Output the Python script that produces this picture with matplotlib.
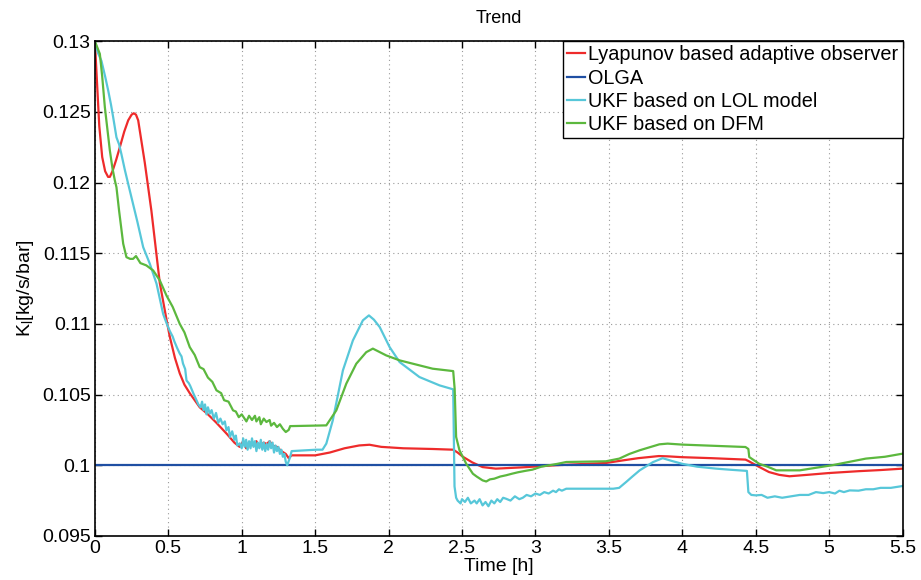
import matplotlib
matplotlib.use("Agg")
import matplotlib.pyplot as plt

plt.rcParams["font.family"] = ["Liberation Sans", "DejaVu Sans"]
plt.rcParams["mathtext.fontset"] = "custom"
plt.rcParams["mathtext.rm"] = "Liberation Sans"

# Lyapunov based adaptive observer
lyap_t = [0.0, 0.01, 0.03, 0.05, 0.07, 0.09, 0.102, 0.12, 0.145, 0.17, 0.2, 0.227, 0.25,
          0.265, 0.28, 0.295, 0.34, 0.385, 0.442, 0.488, 0.51, 0.545, 0.578, 0.61, 0.646,
          0.68, 0.714, 0.77, 0.828, 0.9, 0.95, 0.986, 1.01, 1.03, 1.06, 1.08, 1.1, 1.12,
          1.15, 1.17, 1.19, 1.21, 1.24, 1.27, 1.3, 1.32, 1.33, 1.34, 1.5, 1.6, 1.7, 1.8,
          1.87, 1.95, 2.1, 2.3, 2.44, 2.47, 2.506, 2.57, 2.64, 2.73, 2.91, 3.14, 3.48,
          3.6, 3.7, 3.84, 3.9, 4.0, 4.2, 4.43, 4.45, 4.52, 4.59, 4.66, 4.73, 4.85, 5.0,
          5.2, 5.35, 5.5]
lyap_v = [0.1300, 0.1280, 0.1240, 0.1218, 0.1208, 0.1204, 0.1204, 0.1208, 0.1216, 0.1225,
          0.1236, 0.1244, 0.1248, 0.1249, 0.1248, 0.1244, 0.1214, 0.1180, 0.1129, 0.1103,
          0.1091, 0.1076, 0.1065, 0.1057, 0.1051, 0.1046, 0.1041, 0.1036, 0.1030, 0.1022,
          0.1016, 0.1013, 0.1017, 0.1012, 0.1016, 0.1014, 0.1017, 0.1013, 0.1016, 0.1015,
          0.1017, 0.1014, 0.1013, 0.1010, 0.1008, 0.1005, 0.1006, 0.1007, 0.1007, 0.1009,
          0.1012, 0.1014, 0.10145, 0.1013, 0.1012, 0.10115, 0.1011, 0.1009, 0.1006, 0.1002,
          0.09987, 0.09976, 0.09985, 0.1000, 0.10016, 0.10035, 0.1005, 0.10065, 0.10063,
          0.10057, 0.1005, 0.1004, 0.1003, 0.0999, 0.09952, 0.09932, 0.09922, 0.09932,
          0.09945, 0.09958, 0.09966, 0.09976]

# OLGA
olga_t = [0.0, 5.5]
olga_v = [0.1, 0.1]

# UKF based on LOL model
lol_t = [0.0, 0.02, 0.045, 0.07, 0.091, 0.11, 0.125, 0.147, 0.165, 0.181, 0.204, 0.227,
         0.26, 0.29, 0.329, 0.374, 0.42, 0.465,
         0.49, 0.51, 0.53, 0.54, 0.56, 0.578, 0.59, 0.6, 0.615, 0.624, 0.64, 0.65, 0.67,
         0.692, 0.705, 0.72, 0.73, 0.74, 0.75, 0.76, 0.77, 0.782, 0.795, 0.81, 0.825,
         0.84, 0.855, 0.87, 0.885, 0.896, 0.91, 0.92, 0.935, 0.95, 0.96, 0.97, 0.986,
         1.0, 1.01, 1.02, 1.03, 1.04, 1.05, 1.06, 1.07, 1.08, 1.09, 1.1, 1.11, 1.12,
         1.13, 1.14, 1.15, 1.16, 1.17, 1.18, 1.19, 1.2, 1.21, 1.22, 1.23, 1.24, 1.25,
         1.26, 1.27, 1.28, 1.29, 1.30, 1.31, 1.32, 1.33, 1.34,
         1.508, 1.55, 1.576, 1.62, 1.689, 1.757, 1.825, 1.866, 1.9, 1.94, 2.007, 2.075,
         2.21, 2.347, 2.44,
         2.449, 2.46, 2.47, 2.49, 2.5, 2.52, 2.54, 2.56, 2.585, 2.6, 2.62, 2.64, 2.66,
         2.68, 2.7, 2.72, 2.74, 2.76, 2.78, 2.8, 2.83, 2.86, 2.89, 2.914, 2.94, 2.97,
         3.0, 3.03, 3.06, 3.09, 3.12, 3.14, 3.16, 3.18, 3.21,
         3.53, 3.57, 3.617, 3.66, 3.71, 3.8, 3.866, 3.93, 4.0, 4.1, 4.23, 4.33, 4.44,
         4.45, 4.47, 4.5, 4.54, 4.58, 4.63, 4.68, 4.74, 4.8, 4.86, 4.91, 4.96, 5.0,
         5.04, 5.07, 5.1, 5.14, 5.2, 5.25, 5.3, 5.35, 5.42, 5.5]
lol_v = [0.1300, 0.1292, 0.1286, 0.1275, 0.1265, 0.1255, 0.1246, 0.1232, 0.1227, 0.1220,
         0.1209, 0.1199, 0.1185, 0.1172, 0.11543, 0.11426, 0.11284, 0.1107,
         0.1100, 0.1095, 0.1091, 0.1088, 0.1083, 0.1079, 0.1077, 0.1072, 0.1068, 0.1060,
         0.1058, 0.1056, 0.1051, 0.1046, 0.1043, 0.1041, 0.1045, 0.1039, 0.1043, 0.1036,
         0.1041, 0.10365, 0.1039, 0.1033, 0.1037, 0.1030, 0.1033, 0.1029, 0.1031, 0.10247,
         0.1027, 0.1020, 0.1024, 0.1018, 0.1021, 0.1014, 0.10155,
         0.1012, 0.1019, 0.1013, 0.1018, 0.1011, 0.1017, 0.1012, 0.1019, 0.1013, 0.1017,
         0.1010, 0.1016, 0.1012, 0.1018, 0.1011, 0.1016, 0.1010, 0.1015, 0.1011, 0.1017,
         0.1012, 0.1016, 0.1009, 0.1014, 0.1010, 0.1013, 0.1008, 0.1011, 0.1006, 0.1008,
         0.10024, 0.1000, 0.1003, 0.1006, 0.1010,
         0.1011, 0.1011, 0.10153, 0.10317, 0.10671, 0.10883, 0.11025, 0.1106, 0.1103,
         0.10977, 0.10836, 0.1073, 0.10624, 0.10565, 0.10537,
         0.0985, 0.0977, 0.0975, 0.0973, 0.0976, 0.0974, 0.0977, 0.0973, 0.0975, 0.0973,
         0.0976, 0.09716, 0.0974, 0.0971, 0.0975, 0.0973, 0.0976, 0.0974, 0.0977, 0.09763,
         0.0975, 0.0978, 0.0976, 0.0977, 0.0979, 0.0978, 0.0980, 0.0979, 0.0981, 0.0980,
         0.0982, 0.0981, 0.0983, 0.0982, 0.09834,
         0.09834, 0.0984, 0.09881, 0.0992, 0.09964, 0.10022, 0.1005, 0.1003, 0.1001,
         0.0999, 0.09976, 0.09968, 0.0996,
         0.0981, 0.0979, 0.09787, 0.0979, 0.0977, 0.0978, 0.0977, 0.0978, 0.0979, 0.0979,
         0.0981, 0.09803, 0.0981, 0.0980, 0.0982, 0.0981, 0.09822, 0.0982, 0.0983, 0.0983,
         0.0984, 0.0984, 0.09853]

# UKF based on DFM
dfm_t = [0.0, 0.034, 0.05, 0.068, 0.085, 0.102, 0.12, 0.136, 0.147, 0.165, 0.193, 0.215,
         0.24, 0.26, 0.28, 0.31, 0.35, 0.397, 0.442, 0.488, 0.53, 0.578, 0.61, 0.646,
         0.68, 0.714, 0.74, 0.77, 0.8, 0.828, 0.86, 0.88, 0.91, 0.941, 0.96, 0.98, 1.0,
         1.032, 1.05, 1.07, 1.09, 1.1, 1.12, 1.13, 1.15, 1.168, 1.19, 1.2, 1.22, 1.24,
         1.26, 1.28, 1.30, 1.32, 1.33, 1.34, 1.576, 1.644, 1.712, 1.78, 1.848, 1.893,
         1.984, 2.075, 2.3, 2.44, 2.45, 2.46, 2.483, 2.529, 2.574, 2.6, 2.64, 2.665,
         2.69, 2.72, 2.76, 2.8, 2.84, 2.88, 2.93, 2.98, 3.04, 3.095, 3.15, 3.21, 3.48,
         3.571, 3.64, 3.71, 3.844, 3.9, 4.0, 4.43, 4.45, 4.456, 4.524, 4.58, 4.64, 4.8,
         5.02, 5.25, 5.38, 5.5]
dfm_v = [0.1300, 0.1291, 0.1275, 0.12533, 0.1238, 0.12227, 0.1210, 0.12015, 0.11967,
         0.1180, 0.11567, 0.11472, 0.1146, 0.1146, 0.1148, 0.1143, 0.11414, 0.11378,
         0.11308, 0.1120, 0.1112, 0.1100, 0.1094, 0.10836, 0.1078, 0.10694, 0.1068,
         0.1062, 0.1059, 0.1053, 0.1051, 0.1046, 0.1045, 0.10388, 0.1038, 0.1034,
         0.1036, 0.1031, 0.1035, 0.1032, 0.1035, 0.1031, 0.1034, 0.1029, 0.1033, 0.10306,
         0.1032, 0.1028, 0.1030, 0.1027, 0.1029, 0.10258, 0.10235, 0.1025, 0.10277,
         0.10277, 0.10282, 0.10388, 0.10577, 0.10718, 0.1080, 0.10825, 0.10777, 0.10742,
         0.10683, 0.10666, 0.1054, 0.1020, 0.10105, 0.1001, 0.0994, 0.0992, 0.09893,
         0.09885, 0.0990, 0.09905, 0.0992, 0.09929, 0.0994, 0.0995, 0.0996, 0.09969,
         0.0999, 0.1000, 0.1001, 0.10023, 0.10028, 0.10047, 0.1008, 0.10106, 0.10148,
         0.10153, 0.10146, 0.10129, 0.10115, 0.10058, 0.1001, 0.0999, 0.09964, 0.09964,
         0.1000, 0.10047, 0.1006, 0.10082]

legend_labels = ["Lyapunov based adaptive observer", "OLGA",
                 "UKF based on LOL model", "UKF based on DFM"]
x_ticks = [0, 0.5, 1, 1.5, 2, 2.5, 3, 3.5, 4, 4.5, 5, 5.5]
x_ticklabels = ["0", "0.5", "1", "1.5", "2", "2.5", "3", "3.5", "4", "4.5", "5", "5.5"]
y_ticks = [0.095, 0.1, 0.105, 0.11, 0.115, 0.12, 0.125, 0.13]
y_ticklabels = ["0.095", "0.1", "0.105", "0.11", "0.115", "0.12", "0.125", "0.13"]

fig = plt.figure(figsize=(9.21, 5.8), dpi=100)
ax = fig.add_axes([0.103, 0.076, 0.877, 0.853])

lw = 1.6
ax.plot(lyap_t, lyap_v, color="#ee2b2b", lw=lw, label=legend_labels[0])
ax.plot(olga_t, olga_v, color="#1f4fa3", lw=lw, label=legend_labels[1])
ax.plot(lol_t, lol_v, color="#57c7d9", lw=lw, label=legend_labels[2])
ax.plot(dfm_t, dfm_v, color="#5cb83e", lw=lw, label=legend_labels[3])

ax.set_xlim(0, 5.5)
ax.set_ylim(0.095, 0.13)
ax.set_xticks(x_ticks)
ax.set_xticklabels(x_ticklabels)
ax.set_yticks(y_ticks)
ax.set_yticklabels(y_ticklabels)
ax.tick_params(direction="in", top=True, right=True, labelsize=14, length=5,
               width=1, pad=3)
ax.grid(True, linestyle=(0, (1, 3)), color="#999999", lw=0.8)
for s in ax.spines.values():
    s.set_linewidth(1.2)

ax.set_title("Trend", fontsize=13, pad=13)
ax.set_xlabel("Time [h]", fontsize=14, labelpad=1)
ax.set_ylabel(r"K$_\mathrm{l}$[kg/s/bar]", fontsize=14, labelpad=4)

leg = ax.legend(loc="upper right", fontsize=14.3, handlelength=0.9, handletextpad=0.2,
                borderaxespad=0, borderpad=0.2, labelspacing=0.22, fancybox=False,
                framealpha=1, edgecolor="black")
leg.get_frame().set_linewidth(1.0)

fig.savefig("out.png", dpi=100)
